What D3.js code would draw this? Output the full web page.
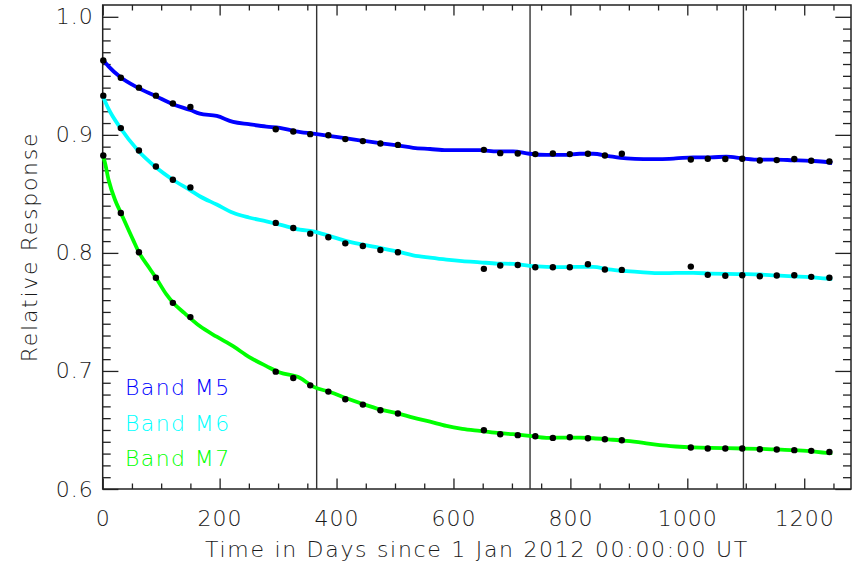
<!DOCTYPE html>
<html><head><meta charset="utf-8">
<script src="https://cdn.jsdelivr.net/npm/d3@7/dist/d3.min.js"></script>
<style>
html,body{margin:0;padding:0;background:#fff;}
svg{display:block;}
text{font-family:"DejaVu Sans",sans-serif;}
</style></head>
<body>
<svg id="chart" width="854" height="564"></svg>
<script>
// ---- data ----
const bandNames = ["Band M5", "Band M6", "Band M7"];
const bandColors = ["#0000ff", "#00ffff", "#00ff00"];
const yearBoundaries = [366, 731, 1096];
const xTickLabels = [0, 200, 400, 600, 800, 1000, 1200];
const yTickLabels = [0.6, 0.7, 0.8, 0.9, 1.0];

// trend lines [day, relative response]
const m5Line = [[0,0.964],[10,0.958],[30,0.949],[60,0.940],[90,0.933],[120,0.926],[150,0.921],[166,0.918],[195,0.916],[223,0.911],[250,0.909],[280,0.907],[303,0.906],[330,0.903],[360,0.901],[390,0.899],[417,0.897],[445,0.895],[474,0.893],[505,0.891],[531,0.889],[560,0.888],[588,0.887],[615,0.887],[645,0.887],[675,0.886],[702,0.886],[730,0.884],[759,0.883],[790,0.883],[816,0.884],[839,0.884],[865,0.882],[896,0.880],[925,0.8795],[953,0.8795],[980,0.880],[1010,0.881],[1040,0.881],[1067,0.8815],[1095,0.880],[1124,0.879],[1150,0.879],[1181,0.8785],[1210,0.878],[1238,0.877],[1248,0.876]];
const m6Line = [[0,0.933],[10,0.922],[30,0.906],[60,0.887],[90,0.873],[120,0.862],[150,0.853],[166,0.848],[195,0.841],[223,0.834],[250,0.830],[280,0.8267],[303,0.824],[337,0.8197],[360,0.8183],[390,0.814],[417,0.810],[445,0.807],[474,0.8042],[505,0.801],[531,0.798],[560,0.796],[588,0.7943],[615,0.793],[645,0.792],[675,0.791],[702,0.7907],[730,0.789],[759,0.7882],[790,0.788],[816,0.7882],[839,0.7882],[865,0.786],[896,0.7845],[925,0.7835],[953,0.7828],[980,0.783],[1010,0.7831],[1040,0.7825],[1067,0.7822],[1095,0.782],[1124,0.7817],[1150,0.781],[1181,0.7802],[1210,0.7795],[1238,0.7783],[1248,0.778]];
const m7Line = [[0,0.882],[3,0.878],[10,0.862],[21,0.845],[31,0.834],[52,0.811],[62,0.8005],[80,0.787],[91,0.779],[109,0.7648],[120,0.758],[140,0.749],[166,0.738],[195,0.729],[223,0.721],[250,0.712],[280,0.7041],[303,0.6986],[337,0.6943],[360,0.6867],[390,0.682],[417,0.6768],[445,0.672],[474,0.6675],[505,0.664],[531,0.6605],[560,0.657],[588,0.6534],[615,0.651],[645,0.6492],[675,0.6475],[702,0.6464],[730,0.645],[759,0.6433],[790,0.6436],[816,0.6436],[839,0.643],[865,0.642],[896,0.6407],[925,0.639],[953,0.6371],[980,0.636],[1010,0.6352],[1040,0.6348],[1067,0.6346],[1095,0.6343],[1124,0.634],[1150,0.6335],[1181,0.6329],[1210,0.632],[1238,0.6306],[1248,0.6305]];

// measured points [day, relative response]
const m5Points = [[1,0.963],[31,0.9484],[62,0.940],[91,0.9332],[120,0.9265],[150,0.9237],[296,0.9048],[326,0.9028],[355,0.9006],[386,0.8997],[415,0.8964],[445,0.8947],[475,0.8927],[505,0.8915],[652,0.8873],[680,0.8845],[710,0.8842],[740,0.8837],[770,0.8842],[799,0.8837],[830,0.884],[859,0.8825],[888,0.884],[1006,0.8791],[1035,0.8797],[1065,0.8795],[1094,0.8797],[1124,0.8783],[1153,0.8786],[1183,0.8795],[1212,0.878],[1243,0.8774]];
const m6Points = [[1,0.9332],[31,0.9057],[62,0.8867],[91,0.8732],[120,0.862],[150,0.8555],[296,0.8254],[326,0.8211],[355,0.8163],[386,0.8132],[415,0.8081],[445,0.8059],[475,0.8025],[505,0.8005],[652,0.7865],[680,0.7893],[710,0.7898],[740,0.7878],[770,0.7878],[799,0.7878],[830,0.7904],[859,0.7859],[888,0.7856],[1006,0.7884],[1035,0.7814],[1065,0.7806],[1094,0.7811],[1124,0.7802],[1153,0.7808],[1183,0.7811],[1212,0.7797],[1243,0.7789]];
const m7Points = [[1,0.8825],[31,0.8338],[62,0.8005],[91,0.7789],[120,0.7577],[150,0.7456],[296,0.6994],[326,0.6940],[355,0.6878],[386,0.6825],[415,0.676],[445,0.6715],[475,0.6667],[505,0.6639],[652,0.6498],[680,0.6464],[710,0.6456],[740,0.6447],[770,0.6433],[799,0.6439],[830,0.643],[859,0.6422],[888,0.6413],[1006,0.6352],[1035,0.6343],[1065,0.6343],[1094,0.6343],[1124,0.6337],[1153,0.6335],[1183,0.6329],[1212,0.6323],[1243,0.6314]];

const lines = [m5Line, m6Line, m7Line];
const points = [m5Points, m6Points, m7Points];

// ---- layout ----
const L = 102.7, R = 851, T = 5, B = 489;
const svg = d3.select("#chart");
const x = d3.scaleLinear().domain([0, 1280]).range([L, R]);
const y = d3.scaleLinear().domain([0.6, 1.01]).range([B, T]);

const xMinor = d3.range(0, 1280, 50).filter(v => v % 200 !== 0);
const yMinor = d3.range(60, 101, 1).map(v => v / 100).filter(v => Math.round(v * 100) % 10 !== 0);
const axisColor = "#222";
const textColor = "#1a1a1a";

function styleAxis(g) {
  g.select(".domain").remove();
  g.selectAll("line").attr("stroke", axisColor).attr("stroke-width", 1.3);
  g.selectAll("text").attr("fill", textColor).style("font-size", "22px")
    .style("font-family", "DejaVu Sans").style("font-weight", 200).style("letter-spacing", "1px");
}

// bottom
svg.append("g").attr("transform", `translate(0,${B})`)
  .call(d3.axisBottom(x).tickValues(xTickLabels).tickSize(-10.5).tickPadding(21).tickFormat(d3.format("d"))).call(styleAxis);
svg.append("g").attr("transform", `translate(0,${B})`)
  .call(d3.axisBottom(x).tickValues(xMinor).tickSize(-5.5).tickFormat("")).call(styleAxis);
// top
svg.append("g").attr("transform", `translate(0,${T})`)
  .call(d3.axisTop(x).tickValues(xTickLabels).tickSize(-10.5).tickFormat("")).call(styleAxis);
svg.append("g").attr("transform", `translate(0,${T})`)
  .call(d3.axisTop(x).tickValues(xMinor).tickSize(-5.5).tickFormat("")).call(styleAxis);
// left
svg.append("g").attr("transform", `translate(${L},0)`)
  .call(d3.axisLeft(y).tickValues(yTickLabels).tickSize(-15.7).tickPadding(9).tickFormat(d3.format(".1f"))).call(styleAxis);
svg.append("g").attr("transform", `translate(${L},0)`)
  .call(d3.axisLeft(y).tickValues(yMinor).tickSize(-8).tickFormat("")).call(styleAxis);
// right
svg.append("g").attr("transform", `translate(${R},0)`)
  .call(d3.axisRight(y).tickValues(yTickLabels).tickSize(-15.7).tickFormat("")).call(styleAxis);
svg.append("g").attr("transform", `translate(${R},0)`)
  .call(d3.axisRight(y).tickValues(yMinor).tickSize(-8).tickFormat("")).call(styleAxis);

// frame
svg.append("rect").attr("x", L).attr("y", T).attr("width", R - L).attr("height", B - T)
  .attr("fill", "none").attr("stroke", axisColor).attr("stroke-width", 1.5);

// year boundaries
svg.append("g").selectAll("line").data(yearBoundaries).join("line")
  .attr("x1", d => x(d)).attr("x2", d => x(d)).attr("y1", T).attr("y2", B)
  .attr("stroke", "#333").attr("stroke-width", 1.4);

// trend lines
const lineGen = d3.line().x(d => x(d[0])).y(d => y(d[1])).curve(d3.curveMonotoneX);
svg.append("g").selectAll("path").data(lines).join("path")
  .attr("d", lineGen).attr("fill", "none")
  .attr("stroke", (d, i) => bandColors[i]).attr("stroke-width", 3.8)
  .attr("stroke-linejoin", "round");

// measured points
points.forEach(pts => {
  svg.append("g").selectAll("circle").data(pts).join("circle")
    .attr("cx", d => x(d[0])).attr("cy", d => y(d[1])).attr("r", 3.2).attr("fill", "#000");
});

// legend
svg.append("g").selectAll("text").data(bandNames).join("text")
  .attr("x", 125).attr("y", (d, i) => 395 + i * 35.5)
  .attr("fill", (d, i) => bandColors[i])
  .style("font-size", "22px").style("font-weight", 200).style("letter-spacing", "1.4px")
  .text(d => d);

// axis titles
svg.append("text").attr("x", 477).attr("y", 557).attr("text-anchor", "middle")
  .attr("fill", textColor).style("font-size", "22px").style("font-weight", 200).style("letter-spacing", "1.7px")
  .text("Time in Days since 1 Jan 2012 00:00:00 UT");
svg.append("text").attr("transform", "translate(37,247) rotate(-90)").attr("text-anchor", "middle")
  .attr("fill", textColor).style("font-size", "22px").style("font-weight", 200).style("letter-spacing", "1.7px")
  .text("Relative Response");
</script>
</body></html>
